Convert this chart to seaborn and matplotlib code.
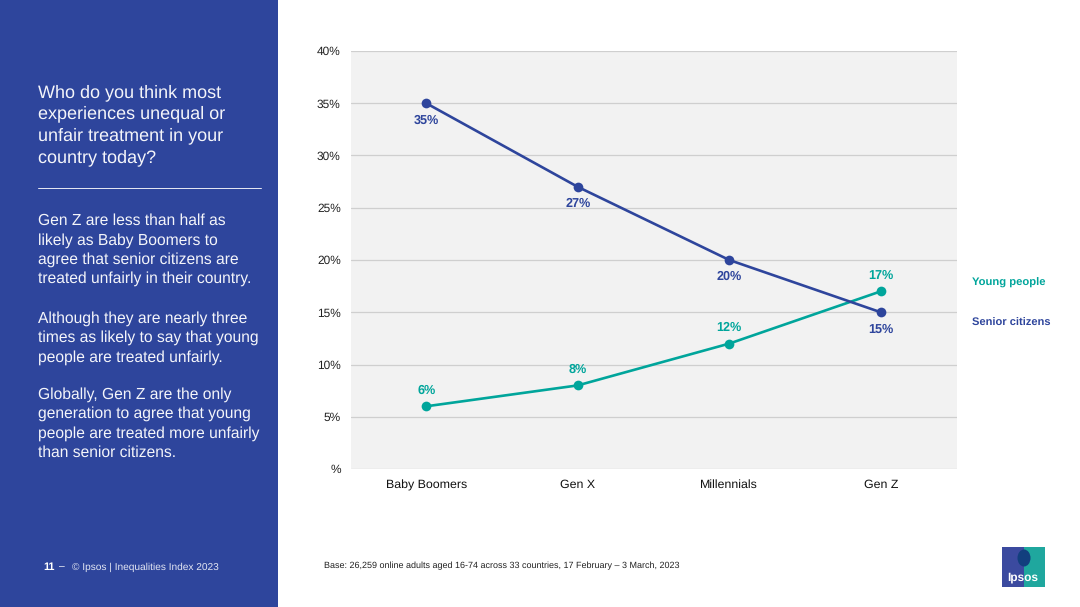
import matplotlib
matplotlib.use("Agg")
import matplotlib.pyplot as plt
from matplotlib.patches import Rectangle, Ellipse
import pandas as pd
import seaborn as sns

generations = ["Baby Boomers", "Gen X", "Millennials", "Gen Z"]
young_people = [6, 8, 12, 17]
senior_citizens = [35, 27, 20, 15]
y_ticks = [0, 5, 10, 15, 20, 25, 30, 35, 40]
y_labels = ["%", "5%", "10%", "15%", "20%", "25%", "30%", "35%", "40%"]

BLUE = "#2E459C"
TEAL = "#00A59B"
W, H = 1080, 607

sns.set_theme(style="white")
plt.rcParams["font.family"] = ["Liberation Sans", "DejaVu Sans"]
plt.rcParams["text.hinting"] = "no_hinting"
plt.rcParams["text.hinting_factor"] = 8

fig = plt.figure(figsize=(W / 100, H / 100), dpi=100, facecolor="white")

def fx(x): return x / W
def fy(y): return 1 - y / H

# left panel
fig.add_artist(Rectangle((0, 0), fx(278), 1, transform=fig.transFigure, color=BLUE, lw=0, zorder=0))

ax = fig.add_axes([fx(350.5), fy(469), fx(606), (469 - 51) / H])
ax.set_facecolor("#F2F2F2")

df = pd.DataFrame({
    "generation": generations * 2,
    "share": young_people + senior_citizens,
    "group": ["Young people"] * 4 + ["Senior citizens"] * 4,
})
sns.lineplot(data=df, x="generation", y="share", hue="group", sort=False,
             palette={"Young people": TEAL, "Senior citizens": BLUE},
             marker="o", markersize=7, markeredgewidth=0, linewidth=1.9,
             legend=False, ax=ax, zorder=3, errorbar=None)

ax.set_xlim(-0.5, 3.5)
ax.set_ylim(0, 40)
ax.set_yticks(y_ticks)
ax.set_yticklabels(y_labels, fontsize=8.6, color="#222222")
ax.set_xticks(range(4))
ax.set_xticklabels(generations, fontsize=8.9, color="#111111", va="baseline")
ax.set_xlabel("")
ax.set_ylabel("")
ax.grid(axis="y", color="#CFCFCF", lw=0.9, zorder=1)
ax.set_axisbelow(True)
ax.tick_params(axis="both", length=0)
ax.tick_params(axis="y", pad=7)
ax.tick_params(axis="x", pad=13.7)
for s in ax.spines.values():
    s.set_visible(False)

for i, v in enumerate(senior_citizens):
    ax.annotate(f"{v}%", (i, v), xytext=(0, -17), textcoords="offset pixels",
                ha="center", va="center", fontsize=9.1, fontweight="bold", color=BLUE)
for i, v in enumerate(young_people):
    ax.annotate(f"{v}%", (i, v), xytext=(0, 16), textcoords="offset pixels",
                ha="center", va="center", fontsize=9.1, fontweight="bold", color=TEAL)

# series names
fig.text(fx(972), fy(282.5), "Young people", color=TEAL, fontsize=8.1, fontweight="bold", va="center")
fig.text(fx(972), fy(323.5), "Senior citizens", color=BLUE, fontsize=8.0, fontweight="bold", va="center")

# left panel text
fig.text(fx(38), fy(84), "Who do you think most\nexperiences unequal or\nunfair treatment in your\ncountry today?",
         color="#F4F5FA", fontsize=13.0, va="top", ha="left", linespacing=1.37)
fig.add_artist(plt.Line2D([fx(38), fx(261)], [fy(188), fy(188)], color="#E8EAF4", lw=0.7, transform=fig.transFigure))
body_kw = dict(color="#F4F5FA", fontsize=11.25, va="top", ha="left", linespacing=1.38)
fig.text(fx(38), fy(213.5), "Gen Z are less than half as\nlikely as Baby Boomers to\nagree that senior citizens are\ntreated unfairly in their country.", **body_kw)
fig.text(fx(38), fy(311), "Although they are nearly three\ntimes as likely to say that young\npeople are treated unfairly.", **body_kw)
fig.text(fx(38), fy(387), "Globally, Gen Z are the only\ngeneration to agree that young\npeople are treated more unfairly\nthan senior citizens.", **body_kw)

# footer
fig.text(fx(43), fy(567), "11", color="white", fontsize=7.8, fontweight="bold", va="center")
fig.text(fx(59), fy(567), "–", color="white", fontsize=7.4, va="center")
fig.text(fx(72), fy(567), "© Ipsos | Inequalities Index 2023", color="#E4E7F3", fontsize=7.3, va="center")
fig.text(fx(324), fy(566), "Base: 26,259 online adults aged 16-74 across 33 countries, 17 February – 3 March, 2023",
         color="#222222", fontsize=6.5, va="center")

# logo
fig.add_artist(Rectangle((fx(1002), fy(587)), fx(22), 40 / H, transform=fig.transFigure, color="#3B4A9F", lw=0, zorder=2))
fig.add_artist(Rectangle((fx(1024), fy(587)), fx(21), 40 / H, transform=fig.transFigure, color="#1FA79E", lw=0, zorder=2))
fig.add_artist(Ellipse((fx(1024), fy(558)), fx(13), 17 / H, transform=fig.transFigure, color="#123F7E", lw=0, zorder=3))
fig.text(fx(1023), fy(577), "Ipsos", color="white", fontsize=8.6, fontweight="bold", ha="center", va="center", zorder=4)

fig.savefig("out.png", dpi=100, facecolor="white")
